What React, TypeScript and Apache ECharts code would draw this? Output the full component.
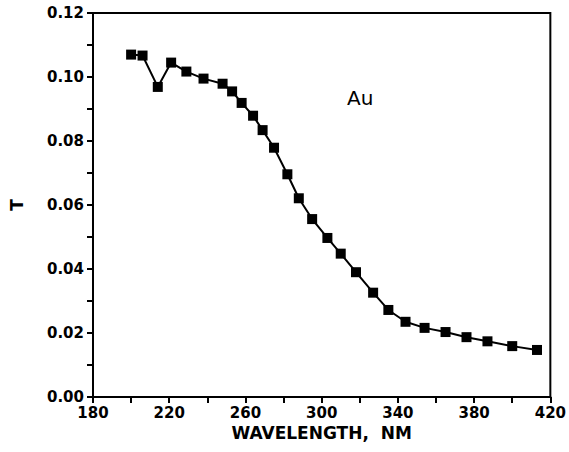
import React, { useEffect, useRef } from "react";
import * as echarts from "echarts";

const wavelengths = [200, 206, 214, 221, 229, 238, 248, 253, 258, 264, 269, 275, 282, 288, 295, 303, 310, 318, 327, 335, 344, 354, 365, 376, 387, 400, 413];
const transmission = [0.107, 0.1067, 0.0969, 0.1045, 0.1017, 0.0995, 0.0979, 0.0955, 0.0919, 0.0879, 0.0834, 0.0779, 0.0696, 0.0621, 0.0556, 0.0497, 0.0448, 0.039, 0.0326, 0.0272, 0.0235, 0.0216, 0.0203, 0.0187, 0.0174, 0.0159, 0.0147];
const xLabels = [180, 220, 260, 300, 340, 380, 420];
const yLabels = [0, 0.02, 0.04, 0.06, 0.08, 0.1, 0.12];
const xTitle = "WAVELENGTH,  NM";
const yTitle = "T";
const annotation = "Au";

const FONT = "DejaVu Sans";

export default function App() {
  const ref = useRef<HTMLDivElement>(null);
  useEffect(() => {
    if (!ref.current) return;
    const chart = echarts.init(ref.current, null, { renderer: "svg" });
    const data = wavelengths.map((w, i) => [w, transmission[i]]);
    chart.setOption({
      animation: false,
      backgroundColor: "#fff",
      grid: {
        left: 87,
        right: 16,
        top: 13,
        bottom: 55,
        show: true,
        borderColor: "#000",
        borderWidth: 2,
      },
      xAxis: {
        type: "value",
        min: 180,
        max: 420,
        interval: 20,
        name: xTitle,
        nameLocation: "middle",
        nameGap: 23,
        nameTextStyle: { fontFamily: FONT, fontWeight: "bold", fontSize: 17, color: "#000" },
        axisLine: { show: true, lineStyle: { color: "#000", width: 2 } },
        axisTick: { show: true, length: 6, lineStyle: { color: "#000", width: 2 } },
        splitLine: { show: false },
        axisLabel: {
          margin: 8,
          fontFamily: FONT,
          fontWeight: "bold",
          fontSize: 15,
          color: "#000",
          formatter: (v: number) => (xLabels.includes(v) ? String(v) : ""),
        },
      },
      yAxis: {
        type: "value",
        min: 0,
        max: 0.12,
        interval: 0.01,
        name: yTitle,
        nameLocation: "middle",
        nameGap: 68,
        nameTextStyle: { fontFamily: FONT, fontWeight: "bold", fontSize: 17, color: "#000" },
        axisLine: { show: true, lineStyle: { color: "#000", width: 2 } },
        axisTick: { show: true, length: 6, lineStyle: { color: "#000", width: 2 } },
        splitLine: { show: false },
        axisLabel: {
          margin: 9,
          fontFamily: FONT,
          fontWeight: "bold",
          fontSize: 15,
          color: "#000",
          formatter: (v: number) =>
            yLabels.some((l) => Math.abs(l - v) < 1e-6) ? v.toFixed(2) : "",
        },
      },
      graphic: [
        {
          type: "text",
          left: 347,
          top: 88,
          style: {
            text: annotation,
            fontFamily: FONT,
            fontSize: 20,
            fill: "#000",
          },
        },
      ],
      series: [
        {
          type: "line",
          data,
          symbol: "rect",
          symbolSize: 10,
          lineStyle: { color: "#000", width: 2 },
          itemStyle: { color: "#000" },
        },
      ],
    });
    return () => chart.dispose();
  }, []);
  return (
    <div
      ref={ref}
      style={{ position: "fixed", left: 0, top: 0, width: 569, height: 452 }}
    />
  );
}
